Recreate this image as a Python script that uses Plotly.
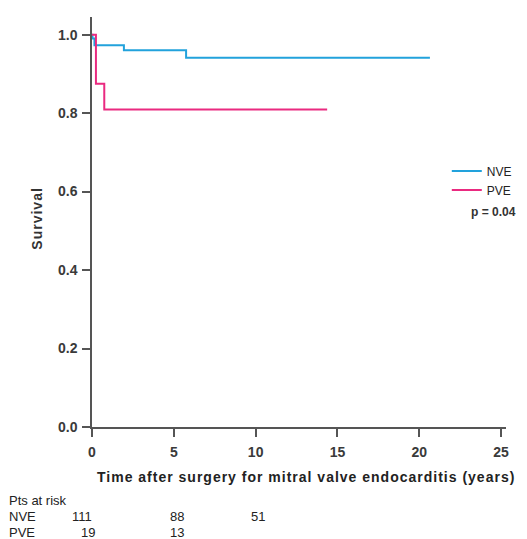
import plotly.graph_objects as go

# Kaplan-Meier step data
nve_t = [0, 0.03, 0.15, 1.95, 5.75, 20.65]
nve_s = [1.0, 0.99, 0.973, 0.960, 0.941, 0.941]
pve_t = [0, 0.24, 0.75, 14.37]
pve_s = [1.0, 0.875, 0.809, 0.809]

x_ticks = [0, 5, 10, 15, 20, 25]
y_ticks = [0.0, 0.2, 0.4, 0.6, 0.8, 1.0]

risk_labels = ["NVE", "PVE"]
risk_times = [0, 5, 10]
nve_risk = [111, 88, 51]
pve_risk = [19, 13]

NVE_COLOR = "#22a2dc"
PVE_COLOR = "#ea2a80"
FONT = "Liberation Sans, Arial, sans-serif"

fig = go.Figure()
fig.add_trace(go.Scatter(x=nve_t, y=nve_s, mode="lines", line_shape="hv",
                         line=dict(color=NVE_COLOR, width=2), name="NVE"))
fig.add_trace(go.Scatter(x=pve_t, y=pve_s, mode="lines", line_shape="hv",
                         line=dict(color=PVE_COLOR, width=2), name="PVE"))

axis_common = dict(showgrid=False, zeroline=False, showline=True, linecolor="#555555",
                   linewidth=1.5, ticks="outside", ticklen=8, tickwidth=1.5, tickcolor="#555555",
                   tickfont=dict(family=FONT, size=14, color="#3a3a3a", weight="bold"))

fig.update_xaxes(range=[0, 25.3], tickvals=x_ticks, ticktext=[str(v) for v in x_ticks],
                 ticklabelstandoff=3, **axis_common)
fig.update_yaxes(range=[0, 1.045], tickvals=y_ticks, ticktext=[f"{v:.1f}" for v in y_ticks],
                 ticklabelstandoff=2, **axis_common)

annotations = [
    dict(text='<span style="letter-spacing:1px"><b>Time after surgery for mitral valve endocarditis (years)</b></span>',
         xref="paper", yref="paper",
         x=1.026, y=-0.123, xanchor="right", yanchor="middle", showarrow=False,
         font=dict(family=FONT, size=14, color="#222222")),
    dict(text='<span style="letter-spacing:1px"><b>Survival</b></span>', xref="paper", yref="paper",
         x=-0.132, y=0.509, textangle=-90,
         xanchor="center", yanchor="middle", showarrow=False,
         font=dict(family=FONT, size=14, color="#333333")),
    dict(text="<b>p = 0.04</b>", xref="paper", yref="paper", x=1.028, y=0.524, xanchor="right",
         yanchor="middle", showarrow=False, font=dict(family=FONT, size=12, color="#333333")),
    dict(text="Pts at risk", xref="paper", yref="paper", x=-0.205, y=-0.18, xanchor="left",
         yanchor="middle", showarrow=False, font=dict(family=FONT, size=13, color="#222222")),
]
row_y = [-0.219, -0.258]
for lab, yy in zip(risk_labels, row_y):
    annotations.append(dict(text=lab, xref="paper", yref="paper", x=-0.205, y=yy, xanchor="left",
                            yanchor="middle", showarrow=False,
                            font=dict(family=FONT, size=13, color="#222222")))
shifts_nve = [-10, 3, 2]
for t, n, s in zip(risk_times, nve_risk, shifts_nve):
    annotations.append(dict(text=str(n), xref="x", yref="paper", x=t, y=row_y[0], xshift=s,
                            xanchor="center", yanchor="middle", showarrow=False,
                            font=dict(family=FONT, size=13, color="#222222")))
shifts_pve = [-4, 3]
for t, n, s in zip(risk_times, pve_risk, shifts_pve):
    annotations.append(dict(text=str(n), xref="x", yref="paper", x=t, y=row_y[1], xshift=s,
                            xanchor="center", yanchor="middle", showarrow=False,
                            font=dict(family=FONT, size=13, color="#222222")))

# page body has an 8px margin, so the figure is sized/margined to land on the reference pixels
fig.update_layout(
    width=519, height=531,
    margin=dict(l=84, r=21, t=9, b=112),
    paper_bgcolor="white", plot_bgcolor="white",
    showlegend=True,
    legend=dict(x=0.857, y=0.66, xanchor="left", yanchor="top", bgcolor="rgba(0,0,0,0)",
                font=dict(family=FONT, size=12, color="#222222"), tracegroupgap=0,
                itemwidth=30),
    annotations=annotations,
)

fig.write_html("out.html")
